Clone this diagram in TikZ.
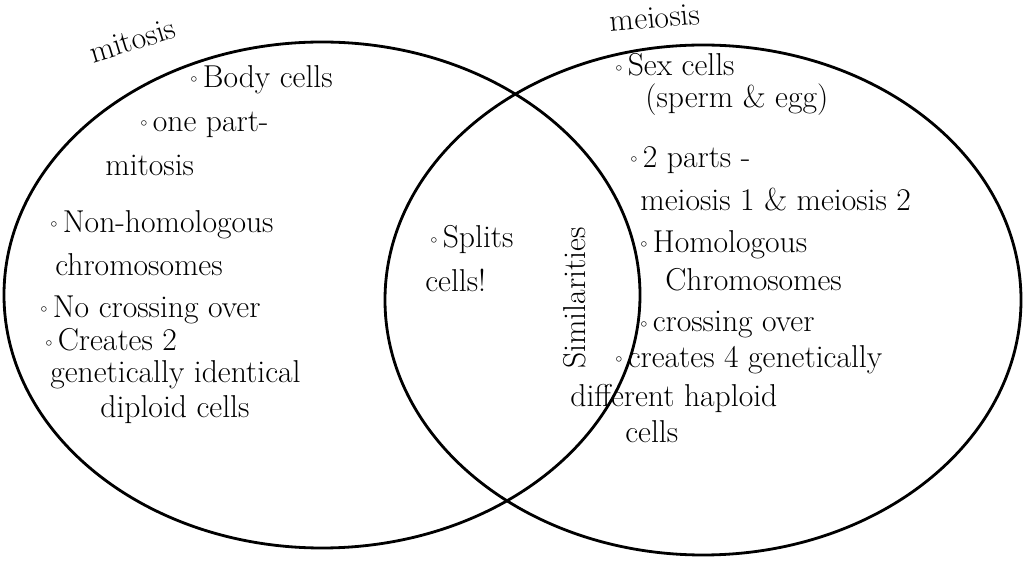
\documentclass[tikz,border=0pt]{standalone}
\usepackage{tikz}

\newcommand{\bul}{\raisebox{0.35ex}{\scriptsize$\circ$}\,}

\begin{document}
\begin{tikzpicture}[scale=1,
  txt/.style={font=\fontsize{18}{21}\selectfont,anchor=west,inner sep=0pt},
  ttl/.style={font=\fontsize{18}{21}\selectfont,inner sep=0pt},
  ring/.style={line width=1.6pt}]
\useasboundingbox (0,0) rectangle (20.52,11.26);
\draw[ring] (6.44,5.36) ellipse (6.36 and 5.06);
\draw[ring] (14.06,5.26) ellipse (6.36 and 5.10);
\node[ttl,rotate=17] (mit) at (2.65,10.45) {mitosis};
\node[ttl,rotate=5] (mei) at (13.10,10.90) {meiosis};
\node[txt] (L1) at (3.80,9.66) {\bul Body cells};
\node[txt] (L2) at (2.80,8.76) {\bul one part-};
\node[txt] (L3) at (2.10,7.96) {mitosis};
\node[txt] (L4) at (1.00,6.76) {\bul Non-homologous};
\node[txt] (L5) at (1.10,5.96) {chromosomes};
\node[txt] (L6) at (0.80,5.06) {\bul No crossing over};
\node[txt] (L7) at (0.90,4.46) {\bul Creates 2};
\node[txt] (L8) at (1.00,3.76) {genetically identical};
\node[txt] (L9) at (2.00,3.06) {diploid cells};
\node[txt] (M1) at (8.60,6.46) {\bul Splits};
\node[txt] (M2) at (8.50,5.66) {cells!};
\node[ttl,rotate=90] (sim) at (11.50,5.30) {Similarities};
\node[txt] (R1) at (12.30,9.96) {\bul Sex cells};
\node[txt] (R2) at (12.90,9.26) {(sperm \& egg)};
\node[txt] (R3) at (12.60,8.06) {\bul 2 parts -};
\node[txt] (R4) at (12.80,7.26) {meiosis 1 \& meiosis 2};
\node[txt] (R5) at (12.80,6.36) {\bul Homologous};
\node[txt] (R6) at (13.30,5.66) {Chromosomes};
\node[txt] (R7) at (12.80,4.76) {\bul crossing over};
\node[txt] (R8) at (12.30,4.06) {\bul creates 4 genetically};
\node[txt] (R9) at (11.40,3.30) {different haploid};
\node[txt] (R10) at (12.50,2.62) {cells};
\end{tikzpicture}
\end{document}
